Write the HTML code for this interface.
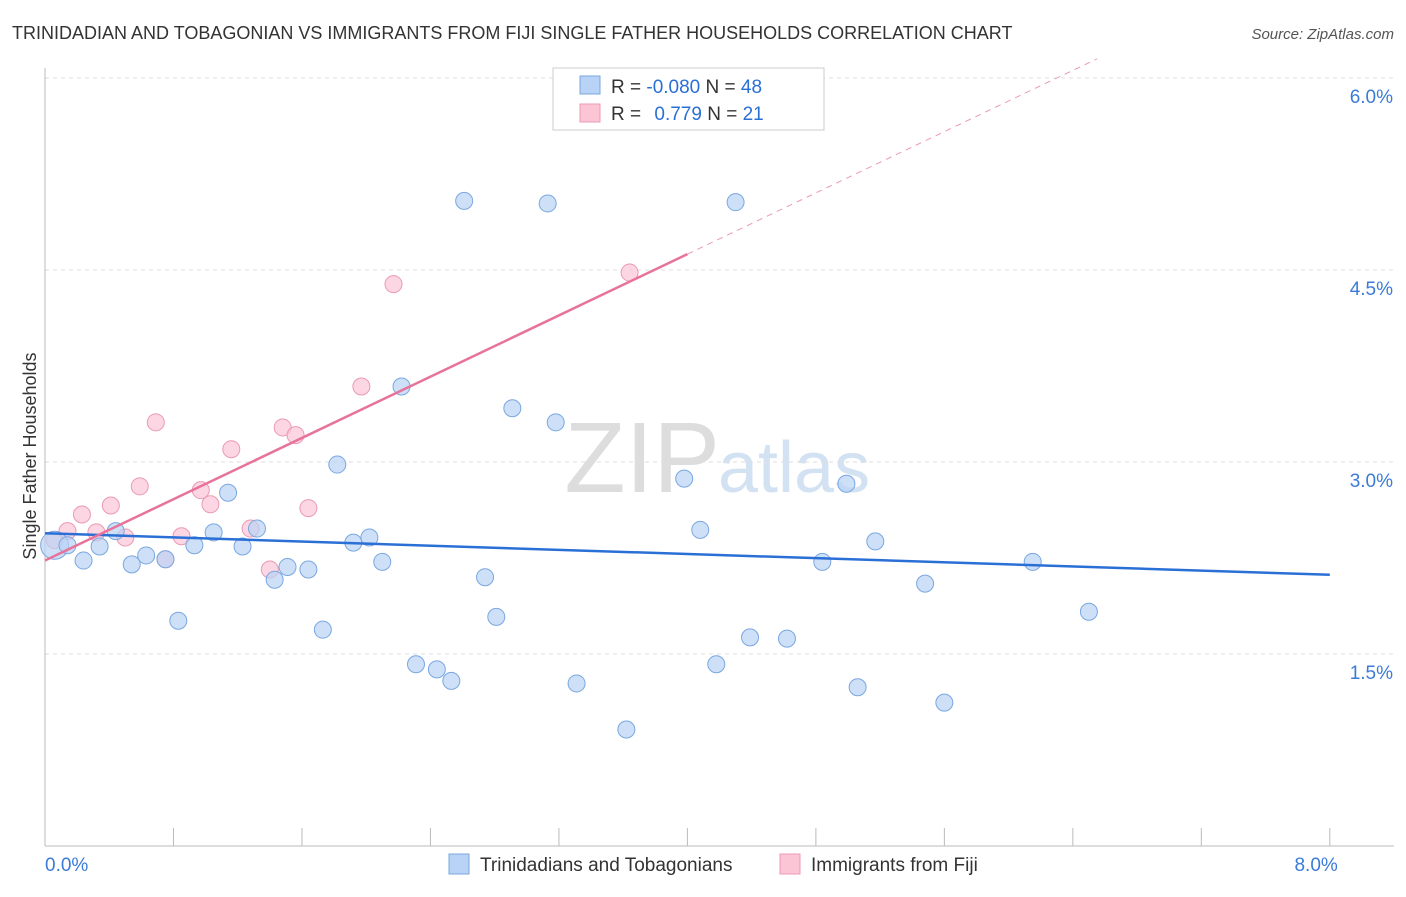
<!DOCTYPE html>
<html><head><meta charset="utf-8"><style>
body{margin:0;background:#fff;font-family:"Liberation Sans",sans-serif;}
svg text{font-family:"Liberation Sans",sans-serif;}
</style></head><body>
<svg id="c" width="1406" height="892" xmlns="http://www.w3.org/2000/svg">
<text x="12" y="39" font-size="18" fill="#333">TRINIDADIAN AND TOBAGONIAN VS IMMIGRANTS FROM FIJI SINGLE FATHER HOUSEHOLDS CORRELATION CHART</text>
<text x="1394" y="39" font-size="15" fill="#555" font-style="italic" text-anchor="end">Source: ZipAtlas.com</text>
<text x="36" y="456" font-size="18" fill="#333" text-anchor="middle" transform="rotate(-90 36 456)">Single Father Households</text>
<text x="720" y="492" font-size="100" fill="#ddd" text-anchor="end" font-family="Liberation Serif">ZIP</text>
<text x="718" y="492" font-size="72" fill="#d3e2f3">atlas</text>
<g id="grid"></g><g id="marks"></g>
<g>
<rect x="553" y="68" width="271" height="62" fill="#fff" stroke="#ccc"/>
<rect x="580" y="76" width="20" height="18" fill="#b8d3f5" stroke="#7aa7e0"/>
<rect x="580" y="104" width="20" height="18" fill="#fbc5d5" stroke="#eb9ab3"/>
<text x="611" y="93" font-size="19" fill="#333">R = <tspan fill="#2a6fd6">-0.080</tspan>   N = <tspan fill="#2a6fd6">48</tspan></text>
<text x="611" y="120" font-size="19" fill="#333">R =   <tspan fill="#2a6fd6" dx="8">0.779</tspan>   N =  <tspan fill="#2a6fd6">21</tspan></text>
</g>
<g>
<rect x="449" y="854" width="20" height="20" fill="#b8d3f5" stroke="#7aa7e0"/>
<text x="480" y="871" font-size="19" fill="#333">Trinidadians and Tobagonians</text>
<rect x="780" y="854" width="20" height="20" fill="#fbc5d5" stroke="#eb9ab3"/>
<text x="811" y="871" font-size="19" fill="#333">Immigrants from Fiji</text>
</g>
</svg>
<script>
const xTicks=[0,0.8,1.6,2.4,3.2,4.0,4.8,5.6,6.4,7.2,8.0];
const yTicks=[1.5,3.0,4.5,6.0];
const blueX=[0.06,0.14,0.24,0.34,0.44,0.54,0.63,0.75,0.83,0.93,1.05,1.14,1.23,1.32,1.43,1.51,1.64,1.73,1.82,1.92,2.02,2.10,2.22,2.31,2.44,2.53,2.61,2.74,2.81,2.91,3.13,3.18,3.31,3.62,3.98,4.08,4.18,4.30,4.39,4.62,4.84,4.99,5.06,5.17,5.48,5.60,6.15,6.50];
const blueY=[2.35,2.35,2.23,2.34,2.46,2.20,2.27,2.24,1.76,2.35,2.45,2.76,2.34,2.48,2.08,2.18,2.16,1.69,2.98,2.37,2.41,2.22,3.59,1.42,1.38,1.29,5.04,2.10,1.79,3.42,5.02,3.31,1.27,0.91,2.87,2.47,1.42,5.03,1.63,1.62,2.22,2.83,1.24,2.38,2.05,1.12,2.22,1.83];
const pinkX=[0.06,0.14,0.23,0.32,0.41,0.50,0.59,0.69,0.75,0.85,0.97,1.03,1.16,1.28,1.40,1.48,1.56,1.64,1.97,2.17,3.64];
const pinkY=[2.39,2.46,2.59,2.45,2.66,2.41,2.81,3.31,2.24,2.42,2.78,2.67,3.10,2.48,2.16,3.27,3.21,2.64,3.59,4.39,4.48];
const X=v=>45+v*160.6, Y=v=>846-v*128;
const NS='http://www.w3.org/2000/svg';
function mk(t,a,p){const e=document.createElementNS(NS,t);for(const k in a)e.setAttribute(k,a[k]);p.appendChild(e);return e;}
const g=document.getElementById('grid'), m=document.getElementById('marks');
yTicks.forEach(v=>{const l=mk('line',{x1:45,x2:1394,y1:Y(v),y2:Y(v),stroke:'#ddd','stroke-dasharray':'4,4'},g);

const t=mk('text',{x:1393,y:Y(v)+25,'font-size':19,fill:'#3b7bd8','text-anchor':'end'},g);t.textContent=v.toFixed(1)+'%';
});
const ax=mk('line',{x1:45,x2:1394,y1:846,y2:846,stroke:'#bbb'},g);
const ay=mk('line',{x1:45,x2:45,y1:68,y2:846,stroke:'#bbb'},g);
xTicks.forEach(v=>{const l=mk('line',{x1:X(v),x2:X(v),y1:828,y2:846,stroke:'#bbb'},g);});
[[0,'start'],[8,'end']].forEach(([v,a])=>{const t=mk('text',{x:X(v)+(v?8:0),y:871,'font-size':19,fill:'#3b7bd8','text-anchor':a},g);t.textContent=v.toFixed(1)+'%';
});
function reg(xs,ys){const n=xs.length,mx=xs.reduce((a,b)=>a+b)/n,my=ys.reduce((a,b)=>a+b)/n;let sxy=0,sxx=0;xs.forEach((x,i)=>{sxy+=(x-mx)*(ys[i]-my);sxx+=(x-mx)**2});const b=sxy/sxx;return [my-b*mx,b];}
function dots(xs,ys,fill,stroke,name){xs.forEach((x,i)=>{const c=mk('circle',{cx:X(x),cy:Y(ys[i]),r:i==0&&name=='blue-point'?14:8.5,fill:fill,stroke:stroke,'stroke-width':1,'fill-opacity':0.7},m);
});}
dots(pinkX,pinkY,'#fbc5d5','#eb9ab3','pink-point');
dots(blueX,blueY,'#b8d3f5','#7aa7e0','blue-point');
let [a,b]=reg(blueX,blueY);
const bl=mk('line',{x1:X(0),y1:Y(a),x2:X(8),y2:Y(a+b*8),stroke:'#2a6fd6','stroke-width':2.5},m);
[a,b]=reg(pinkX,pinkY);const xm=Math.max(...pinkX)+0.36, xe=Math.min(8,(6.15-a)/b);
const pl=mk('line',{x1:X(0),y1:Y(a),x2:X(xm),y2:Y(a+b*xm),stroke:'#e8739a','stroke-width':2.5},m);
const pd=mk('line',{x1:X(xm),y1:Y(a+b*xm),x2:X(xe),y2:Y(a+b*xe),stroke:'#eb9ab3','stroke-width':1,'stroke-dasharray':'6,5'},m);
</script>
</body></html>
